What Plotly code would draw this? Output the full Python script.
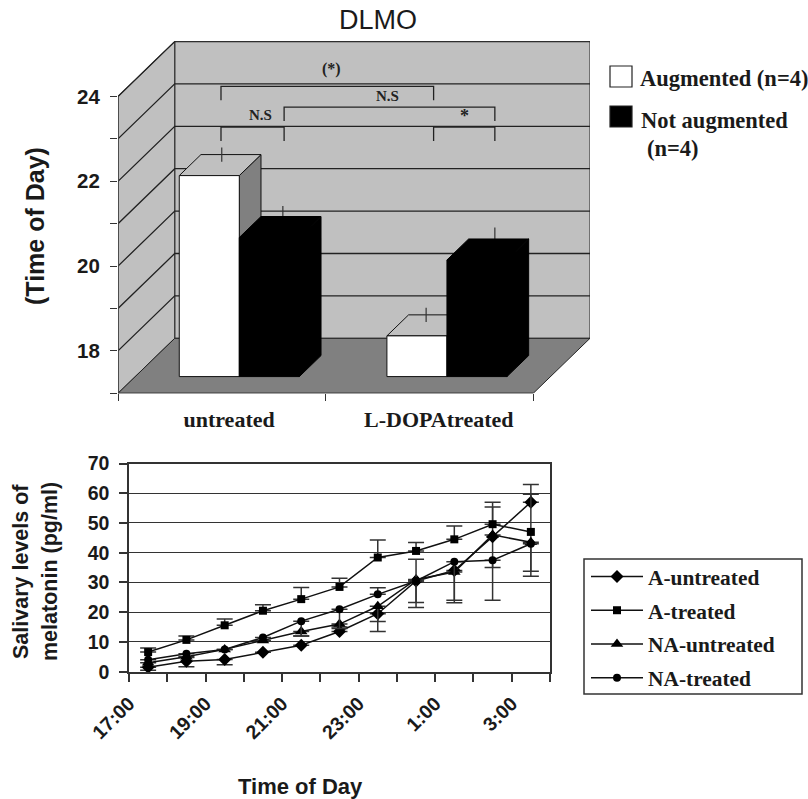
import plotly.graph_objects as go

W, H = 808, 799

# ---------- top panel data ----------
dlmo_categories = ["untreated", "L-DOPAtreated"]
dlmo_augmented = [21.74, 17.96]
dlmo_not_augmented = [20.28, 19.75]
dlmo_err_augmented = [0.17, 0.17]
dlmo_err_not_augmented = [0.25, 0.27]
dlmo_ticks = [17, 18, 19, 20, 21, 22, 23, 24]
dlmo_ticktext = ["", "18", "", "20", "", "22", "", "24"]

# ---------- bottom panel data ----------
hours = [17.5, 18.5, 19.5, 20.5, 21.5, 22.5, 23.5, 24.5, 25.5, 26.5, 27.5]
a_untreated = [1.5, 3.5, 4.1, 6.5, 8.9, 13.5, 19.5, 30.5, 34, 45.4, 57]
a_treated = [6.6, 10.7, 15.6, 20.5, 24.4, 28.5, 38.4, 40.6, 44.5, 49.6, 47]
na_untreated = [3, 5, 7.5, 10.5, 13.5, 16, 22, 31, 33.5, 46, 43.5]
na_treated = [4, 6, 7.5, 11.5, 17, 21, 26, 30.5, 37, 37.5, 43]

a_untreated_up = [0, 1.3, 0, 0, 0, 1.5, 0, 0, 0, 10, 5.9]
a_untreated_dn = [1, 1.8, 1.8, 0, 0, 0, 2.6, 7.2, 10.8, 10.4, 0]
a_treated_up = [1.4, 1.3, 2.1, 2, 3.9, 2.9, 5.9, 2.8, 4.5, 7.4, 12.7]
a_treated_dn = [0, 0, 0, 0, 0, 0, 0, 0, 0, 0, 13.2]
na_untreated_up = [0, 0, 0, 0, 0, 0, 0, 0, 0, 0, 0]
na_untreated_dn = [0, 0, 0, 0, 1.5, 0, 8.5, 9.4, 0, 0, 11.4]
na_treated_up = [0, 0, 0, 0, 0, 0, 2.2, 7.3, 0, 0, 0]
na_treated_dn = [0, 0, 0, 0, 5, 6.5, 0, 0, 13, 13.5, 0]

time_ticks = [17, 18, 19, 20, 21, 22, 23, 24, 25, 26, 27, 28]
time_ticktext = ["17:00", "", "19:00", "", "21:00", "", "23:00", "", "1:00", "", "3:00", ""]
melatonin_ticks = [0, 10, 20, 30, 40, 50, 60, 70]

# ---------- oblique projection for the pseudo-3D panel (data units) ----------
PX_X, PX_Y = 207.5, 42.4       # pixels per category / per hour
DX, DY = 56.7 / PX_X, 55 / PX_Y  # full floor depth
Z0, Z1 = 0.304, 0.686           # bar depth band
Y0, YTOP = 17, 24
GAP, BW = 44 / PX_X, 60 / PX_X
WHISK_X = [[0.4997, 1.484], [0.794, 1.815]]

WALL, FLOOR, INK = "#c0c0c0", "#808080", "#222222"


def proj(x, z, v):
    return x + z * DX, v + z * DY


fig = go.Figure()


def poly(points, fill, line=INK, lw=1.0):
    xs = [p[0] for p in points] + [points[0][0]]
    ys = [p[1] for p in points] + [points[0][1]]
    fig.add_trace(go.Scatter(x=xs, y=ys, mode="lines", fill="toself", fillcolor=fill,
                             line=dict(color=line, width=lw), showlegend=False,
                             hoverinfo="skip", cliponaxis=False))


def seg(xs, ys, color=INK, lw=1.3):
    fig.add_trace(go.Scatter(x=xs, y=ys, mode="lines", line=dict(color=color, width=lw),
                             showlegend=False, hoverinfo="skip", cliponaxis=False))


XR = float(len(dlmo_categories))
poly([proj(0, 1, Y0), proj(XR, 1, Y0), proj(XR, 1, YTOP), proj(0, 1, YTOP)], WALL)
poly([proj(0, 0, Y0), proj(0, 1, Y0), proj(0, 1, YTOP), proj(0, 0, YTOP)], WALL)
poly([proj(0, 0, Y0), proj(XR, 0, Y0), proj(XR, 1, Y0), proj(0, 1, Y0)], FLOOR)
for v in dlmo_ticks[1:]:
    a, b, c = proj(0, 0, v), proj(0, 1, v), proj(XR, 1, v)
    seg([a[0], b[0], c[0]], [a[1], b[1], c[1]])
seg([0, 0], [Y0, YTOP], "#444444", 1.6)
seg([0, XR], [Y0, Y0], "#333333", 1.2)


def bar(x0, v, fill, side, top, outline):
    x1 = x0 + BW
    poly([proj(x1, Z0, Y0), proj(x1, Z1, Y0), proj(x1, Z1, v), proj(x1, Z0, v)], side, outline)
    poly([proj(x0, Z0, v), proj(x1, Z0, v), proj(x1, Z1, v), proj(x0, Z1, v)], top, outline)
    poly([proj(x0, Z0, Y0), proj(x1, Z0, Y0), proj(x1, Z0, v), proj(x0, Z0, v)], fill, outline)


def whisker(x, v, err):
    yb = v + Z1 * DY
    seg([x, x], [yb - err, yb + err], "#333333", 1.2)


for i in range(len(dlmo_categories)):
    base = i + GAP
    bar(base, dlmo_augmented[i], "#ffffff", FLOOR, WALL, "#111111")
    whisker(WHISK_X[0][i], dlmo_augmented[i], dlmo_err_augmented[i])
    whisker(WHISK_X[1][i], dlmo_not_augmented[i], dlmo_err_not_augmented[i])
    bar(base + BW, dlmo_not_augmented[i], "#000000", "#000000", "#000000", "#000000")

# significance brackets: left, right, level, label, label x, label y, label size
LEG = 0.33
brackets = [
    (0.496, 1.52, 24.24, "(*)", 1.03, 24.64, 16),
    (0.80, 1.815, 23.75, "N.S", 1.30, 24.02, 15),
    (0.496, 0.80, 23.28, "N.S", 0.685, 23.57, 15),
    (1.52, 1.815, 23.28, "*", 1.668, 23.55, 18),
]
for x0, x1, lev, lab, lx, ly, size in brackets:
    seg([x0, x0, x1, x1], [lev - LEG, lev, lev, lev - LEG], "#222222", 1.3)
    fig.add_annotation(x=lx, y=ly, xref="x", yref="y", text=lab, showarrow=False,
                       font=dict(family="Liberation Serif", size=size, color="#222222", weight=700))

# ---------- bottom panel ----------
series = [
    ("A-untreated", a_untreated, a_untreated_up, a_untreated_dn, "diamond", 10),
    ("A-treated", a_treated, a_treated_up, a_treated_dn, "square", 8),
    ("NA-untreated", na_untreated, na_untreated_up, na_untreated_dn, "triangle-up", 11),
    ("NA-treated", na_treated, na_treated_up, na_treated_dn, "circle", 8),
]
for name, vals, up, dn, sym, msize in series:
    fig.add_trace(go.Scatter(
        x=hours, y=vals, name=name, mode="lines+markers", xaxis="x2", yaxis="y2",
        legendgroup=name, cliponaxis=False,
        line=dict(color="#111111", width=1.5),
        marker=dict(symbol=sym, size=msize, color="#000000"),
        error_y=dict(type="data", symmetric=False, array=up, arrayminus=dn,
                     color="#333333", thickness=1.5, width=8),
    ))


def px(x):
    return x / W


def py(y):
    return 1 - y / H


def text(x, y, s, size, family="Liberation Sans", weight=700, angle=0, anchor="center", color="#1a1a1a"):
    fig.add_annotation(x=px(x), y=py(y), xref="paper", yref="paper", text=s, showarrow=False,
                       textangle=angle, xanchor=anchor, yanchor="middle",
                       font=dict(family=family, size=size, weight=weight, color=color))


text(378, 20, "DLMO", 27, weight=400)
text(35, 226, "(Time of Day)", 25, angle=-90)
text(21, 572, "Salivary levels of", 21.5, angle=-90)
text(50, 572, "melatonin (pg/ml)", 21.5, angle=-90)
text(300, 786, "Time of Day", 22)
text(638, 78, "Augmented (n=4)", 22.5, family="Liberation Serif", anchor="left")
text(639, 121, "Not augmented", 22.5, family="Liberation Serif", anchor="left")
text(645, 148, "(n=4)", 22.5, family="Liberation Serif", anchor="left")

swatches = [(610, 66, 632, 87, "#ffffff"), (610, 106, 632, 127, "#000000")]
shapes = [dict(type="rect", xref="paper", yref="paper", x0=px(a), x1=px(c), y0=py(d), y1=py(b),
               fillcolor=f, line=dict(color="#222222", width=1.2)) for a, b, c, d, f in swatches]
shapes.append(dict(type="rect", xref="paper", yref="paper", x0=px(584), x1=px(802), y0=py(694), y1=py(559),
                   fillcolor="white", line=dict(color="#333333", width=1.5)))

tick_font = dict(family="Liberation Sans", size=20.5, color="#1a1a1a", weight=700)
fig.update_layout(
    width=W, height=H, autosize=False, margin=dict(l=0, r=0, t=0, b=0),
    paper_bgcolor="white", plot_bgcolor="white", shapes=shapes,
    xaxis=dict(domain=[118 / W, 590 / W], range=[0, XR + DX], showgrid=False, zeroline=False,
               automargin=False,
               showline=False, tickvals=[0.535, 1.545], ticktext=dlmo_categories, ticks="",
               ticklabelstandoff=11,
               tickfont=dict(family="Liberation Serif", size=22, color="#1a1a1a", weight=700),
               minor=dict(tickvals=[0, 1, 2], ticks="outside", ticklen=7, tickcolor="#333333", tickwidth=1.2)),
    yaxis=dict(domain=[1 - 393.3 / H, 1 - 41.3 / H], range=[Y0, Y0 + 352 / PX_Y], showgrid=False,
               automargin=False, ticklabelstandoff=6,
               zeroline=False, showline=False, tickvals=dlmo_ticks, ticktext=dlmo_ticktext,
               ticks="outside", ticklen=7, tickcolor="#333333", tickwidth=1.2, tickfont=tick_font),
    xaxis2=dict(domain=[129 / W, 550 / W], range=[17, 28], anchor="y2", showgrid=False, zeroline=False,
                automargin=False,
                showline=True, mirror=True, linecolor="#333333", linewidth=1.5,
                tickvals=time_ticks, ticktext=time_ticktext, tickangle=-45, ticks="outside",
                ticklen=9, tickcolor="#333333", tickwidth=1.5, ticklabelstandoff=2,
                tickfont=dict(family="Liberation Sans", size=19.5, color="#1a1a1a", weight=700)),
    yaxis2=dict(domain=[1 - 671.7 / H, 1 - 463.5 / H], range=[0, 70], anchor="x2", showgrid=True,
                automargin=False, ticklabelstandoff=6,
                gridcolor="#333333", gridwidth=1.4, zeroline=False, showline=True, mirror=True,
                linecolor="#333333", linewidth=1.5, tickvals=melatonin_ticks, ticks="outside",
                ticklen=8, tickcolor="#333333", tickwidth=1.5,
                tickfont=dict(family="Liberation Sans", size=19.5, color="#1a1a1a", weight=700)),
    legend=dict(x=586 / W, y=1 - 556 / H, xanchor="left", yanchor="top", bgcolor="rgba(0,0,0,0)",
                borderwidth=0, itemwidth=52, tracegroupgap=3,
                font=dict(family="Liberation Serif", size=21.4, color="#1a1a1a", weight=700)),
    hovermode=False,
)

fig.write_html("out.html", config={"displayModeBar": False},
               post_script="document.body.style.margin='0';document.body.style.overflow='hidden';")
